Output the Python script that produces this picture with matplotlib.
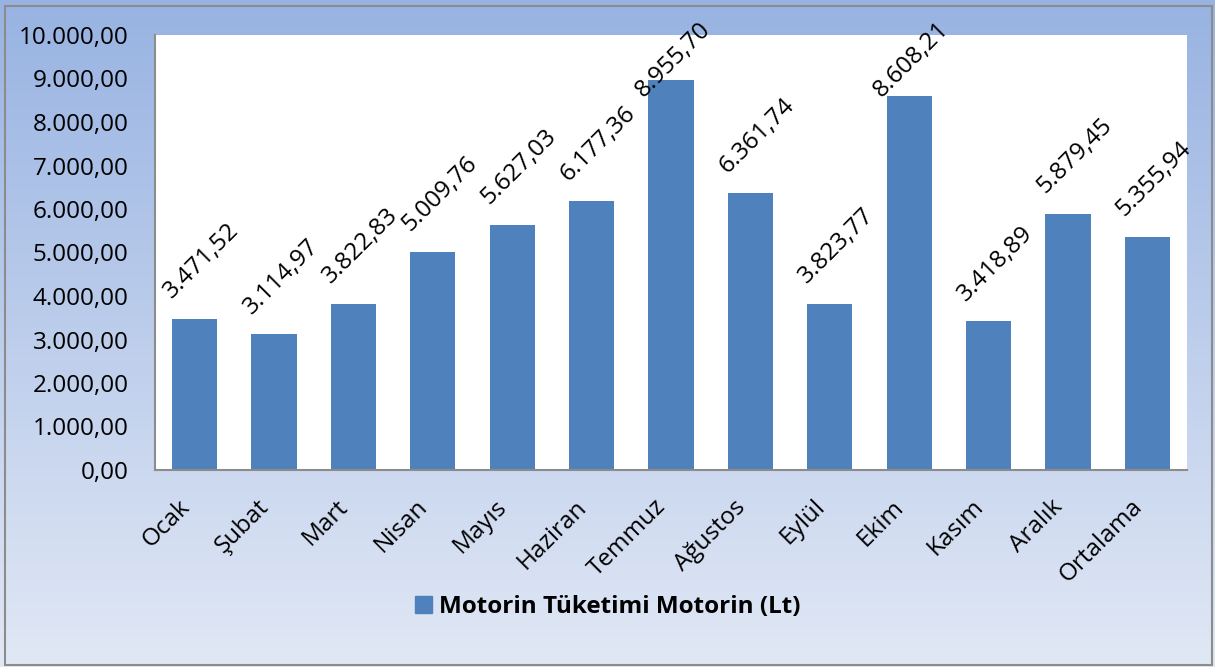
import numpy as np
import matplotlib.pyplot as plt
import matplotlib.transforms as mtransforms
from matplotlib.patches import Rectangle, Patch

aylar = ['Ocak', 'Şubat', 'Mart', 'Nisan', 'Mayıs', 'Haziran', 'Temmuz',
         'Ağustos', 'Eylül', 'Ekim', 'Kasım', 'Aralık', 'Ortalama']
motorin = [3471.52, 3114.97, 3822.83, 5009.76, 5627.03, 6177.36, 8955.70,
           6361.74, 3823.77, 8608.21, 3418.89, 5879.45, 5355.94]
seri_adi = 'Motorin Tüketimi Motorin (Lt)'


def tr_fmt(v):
    # 1234.5 -> 1.234,50
    s = f'{v:,.2f}'
    return s.replace(',', 'X').replace('.', ',').replace('X', '.')


plt.rcParams['font.family'] = ['Open Sans', 'DejaVu Sans']
fs = 17.5

W, H = 1215, 667
fig = plt.figure(figsize=(W / 100, H / 100), dpi=100)

# gradient background
bg = fig.add_axes([0, 0, 1, 1], zorder=-10)
grad = np.linspace(0, 1, 256).reshape(-1, 1)
top = np.array([0x98, 0xb3, 0xe2]) / 255
bot = np.array([0xe1, 0xe8, 0xf5]) / 255
img = top + (bot - top) * grad[:, :, None]
bg.imshow(img, aspect='auto', extent=[0, 1, 0, 1])
bg.set_axis_off()
fig.patches.append(Rectangle((5 / W, 2 / H), 1207 / W, 659 / H, transform=fig.transFigure,
                             fill=False, edgecolor='#8c8c8c', linewidth=1.5))

ax_top, ax_bot = 35, 470
ax = fig.add_axes([155 / W, 1 - ax_bot / H, (1187 - 155) / W, (ax_bot - ax_top) / H])
ax.set_facecolor('white')
x = np.arange(len(aylar))
bars = ax.bar(x, motorin, width=0.57, color='#4f81bd')

ymax = 10000
for xi, v in zip(x, motorin):
    # etiket merkezi cubugun ~58px ustunde, ama grafigin disina tasarsa asagi it
    y_px = ax_bot - v / ymax * (ax_bot - ax_top)
    cy = max(y_px - 58, 60)
    dx = 7 if cy > 60 else 2
    ax.annotate(tr_fmt(v), (xi, v), xytext=(dx * 0.72, (y_px - cy) * 0.72),
                textcoords='offset points', ha='center', va='center', rotation=45,
                rotation_mode='anchor', fontsize=fs, annotation_clip=False)

ax.set_xlim(-0.5, len(aylar) - 0.5)
ax.set_ylim(0, ymax)
ax.set_yticks(np.arange(0, ymax + 1, 1000))
ax.set_yticklabels([tr_fmt(t) for t in np.arange(0, ymax + 1, 1000)], fontsize=fs)
ax.set_xticks(x)
ax.set_xticklabels(aylar, rotation=45, ha='right', fontsize=fs)
shift = mtransforms.ScaledTranslation(5 / 100, 0, fig.dpi_scale_trans)
for lbl in ax.get_xticklabels():
    lbl.set_transform(lbl.get_transform() + shift)
ax.tick_params(axis='y', length=0, pad=19)
ax.tick_params(axis='x', length=0, pad=18)
for s in ['top', 'right']:
    ax.spines[s].set_visible(False)
for s in ['left', 'bottom']:
    ax.spines[s].set_color('#8c8c8c')
    ax.spines[s].set_linewidth(1.5)

fig.legend(handles=[Patch(color='#4f81bd')], labels=[seri_adi], loc='center',
           bbox_to_anchor=(0.5, 1 - 607 / H), frameon=False, handlelength=0.7,
           handleheight=0.7, handletextpad=0.3, prop={'size': 17.5, 'weight': 'bold'})

fig.savefig('out.png', dpi=100)
